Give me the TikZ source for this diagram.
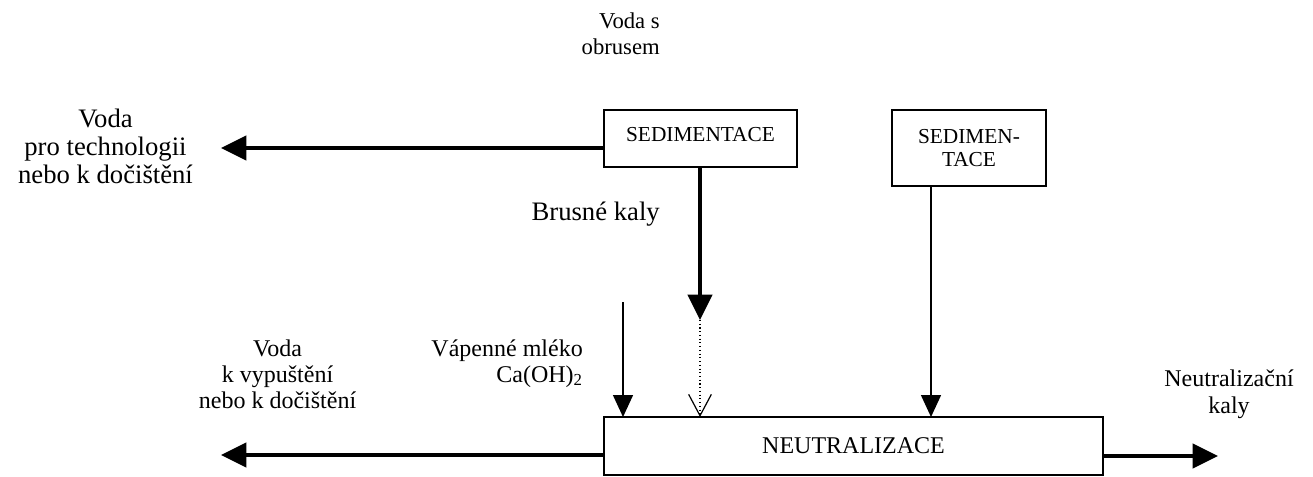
\documentclass[tikz,border=0pt]{standalone}
\usepackage{fontspec}
\setmainfont{Liberation Serif}
\usetikzlibrary{arrows.meta}
\begin{document}
\begin{tikzpicture}[x=0.75pt,y=-0.75pt,
  box/.style={draw, line width=1.5pt, inner sep=0pt, outer sep=0pt, align=center},
  lbl/.style={inner sep=0pt, align=center},
  flowthick/.style={line width=3pt, -{Triangle[length=19pt,width=18pt]}},
  flowthin/.style={line width=1.1pt, -{Triangle[length=16.5pt,width=15pt]}},
  flowdot/.style={line width=0.8pt, dotted, -{Straight Barb[length=16pt,width=17pt,line width=0.9pt]}},
]
\useasboundingbox (0,0) rectangle (1313,477);

% process units
\node[box, minimum width=144.75pt, minimum height=42.75pt, text depth=6.8pt,
      font=\fontsize{16}{19}\selectfont]
  (sed) at (700.5,138.5) {SEDIMENTACE};
\node[box, minimum width=115.5pt, minimum height=57pt, font=\fontsize{16}{17.5}\selectfont]
  (sed2) at (969,148) {SEDIMEN-\\TACE};
\node[box, minimum width=374.25pt, minimum height=43.5pt, font=\fontsize{18}{21}\selectfont]
  (neu) at (853.5,446) {NEUTRALIZACE};

% free ends of the streams
\coordinate (o1) at (221,148);
\coordinate (o2) at (221,455);
\coordinate (o3) at (1218,456);
\coordinate (bk) at (700,320);
\coordinate (ca) at (623,302);
\coordinate (s2) at (931,0);

% streams
\draw[flowthick] (sed.west |- o1) -- (o1);
\draw[flowthick] (sed.south -| bk) -- (bk);
\draw[flowdot] (bk) -- (neu.north -| bk);
\draw[flowthin] (ca) -- (neu.north -| ca);
\draw[flowthin] (sed2.south -| s2) -- (neu.north -| s2);
\draw[flowthick] (neu.west |- o2) -- (o2);
\draw[flowthick] (neu.east |- o3) -- (o3);

% labels
\node[lbl, anchor=east, align=right, font=\fontsize{17}{20}\selectfont]
  (inl) at (660,33.75) {Voda s\\obrusem};
\node[lbl, font=\fontsize{20}{21}\selectfont]
  (wtl) at (105.5,146) {Voda\\pro technologii\\nebo k dočištění};
\node[lbl, anchor=base east, font=\fontsize{20}{24}\selectfont]
  (brl) at (660,221) {Brusné kaly};
\node[lbl, anchor=east, align=right, font=\fontsize{18}{19.5}\selectfont]
  (lml) at (583,363.3) {Vápenné mléko\\Ca(OH)\textsubscript{2}};
\node[lbl, font=\fontsize{18}{19.5}\selectfont]
  (wol) at (277.5,373.8) {Voda\\k vypuštění\\nebo k dočištění};
\node[lbl, font=\fontsize{18}{20.25}\selectfont]
  (nsl) at (1229,393.8) {Neutralizační\\kaly};
\end{tikzpicture}
\end{document}
